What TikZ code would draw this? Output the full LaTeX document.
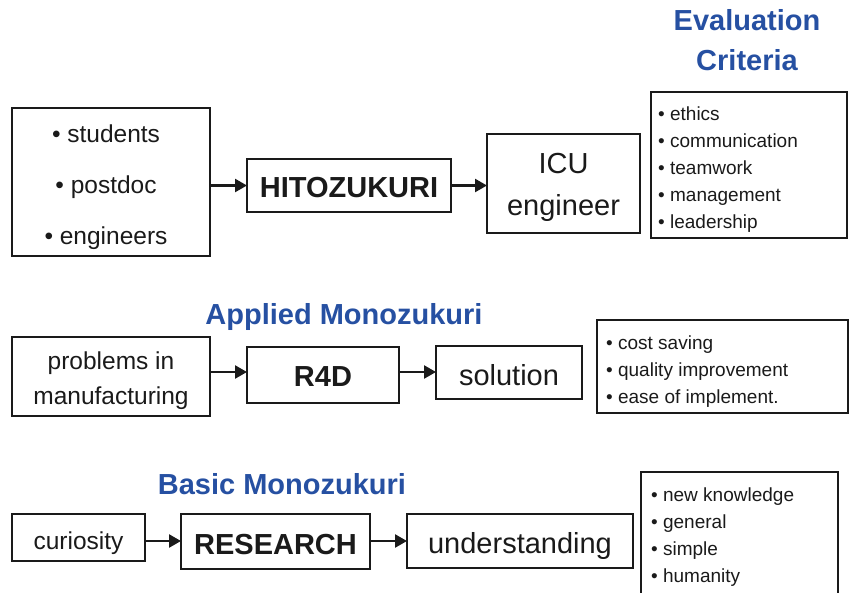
\documentclass[tikz,border=0pt]{standalone}
\usepackage{fontspec}
\setmainfont{Liberation Sans}
\usetikzlibrary{arrows.meta}
\definecolor{titleblue}{RGB}{38,80,162}
\definecolor{ink}{RGB}{26,26,26}
\tikzset{
  box/.style={draw=ink, line width=2pt, rectangle, inner sep=0pt, outer sep=0pt, anchor=north west},
  txt/.style={text=ink, inner sep=0pt, anchor=base},
  item/.style={text=ink, inner sep=0pt, anchor=base west, font=\fontsize{19}{23}\selectfont},
  flow/.style={draw=ink, line width=2.4pt, -{Triangle[length=12pt,width=13pt]}},
  heading/.style={text=titleblue, inner sep=0pt, font=\fontsize{29}{40}\selectfont\bfseries},
  small/.style={font=\fontsize{24.5}{30}\selectfont},
  large/.style={font=\fontsize{29}{35}\selectfont},
  strong/.style={font=\fontsize{29}{35}\selectfont\bfseries}
}
\newcommand{\bul}{\textbullet\ }
\begin{document}
\begin{tikzpicture}[x=1pt,y=-1pt]
\clip (0,0) rectangle (849,592);

% headings
\node[heading] (evalhead) at (747,20) {Evaluation};
\node[heading] (crithead) at (747,60) {Criteria};
\node[heading] (appliedhead) at (344,316.5) {Applied Monozukuri};
\node[heading] (basichead) at (282,484) {Basic Monozukuri};

% ---- Hitozukuri row ----
\node[box, minimum width=198pt, minimum height=148pt] (people) at (12,108) {};
\node[txt, small] (students) at (106,142) {\bul students};
\node[txt, small] (postdoc) at (106,193.5) {\bul postdoc};
\node[txt, small] (engineers) at (106,244.5) {\bul engineers};

\node[box, minimum width=204pt, minimum height=53pt] (hito) at (247,159) {};
\node[txt, strong] (hitotext) at (349,197) {HITOZUKURI};

\node[box, minimum width=153pt, minimum height=99pt] (icu) at (487,134) {};
\node[txt, large] (icutext) at (563.5,173.5) {ICU};
\node[txt, large] (engtext) at (563.5,215.5) {engineer};

\node[box, minimum width=196pt, minimum height=146pt] (criteria) at (651,92) {};
\node[item] (ethics) at (658,120) {\bul ethics};
\node[item] (comm) at (658,147) {\bul communication};
\node[item] (team) at (658,174) {\bul teamwork};
\node[item] (manage) at (658,201) {\bul management};
\node[item] (lead) at (658,228) {\bul leadership};

% ---- Applied Monozukuri row ----
\node[box, minimum width=198pt, minimum height=79pt] (problems) at (12,337) {};
\node[txt, small] (probtext) at (111,369) {problems in};
\node[txt, small] (manutext) at (111,404) {manufacturing};

\node[box, minimum width=152pt, minimum height=56pt] (rfd) at (247,347) {};
\node[txt, strong] (rfdtext) at (323,386) {R4D};

\node[box, minimum width=146pt, minimum height=53pt] (solution) at (436,346) {};
\node[txt, large] (soltext) at (509,385.5) {solution};

\node[box, minimum width=251pt, minimum height=93pt] (benefits) at (597,320) {};
\node[item] (cost) at (606,349) {\bul cost saving};
\node[item] (quality) at (606,376) {\bul quality improvement};
\node[item] (ease) at (606,403) {\bul ease of implement.};

% ---- Basic Monozukuri row ----
\node[box, minimum width=133pt, minimum height=47pt] (curiosity) at (12,514) {};
\node[txt, small] (curtext) at (78.5,549) {curiosity};

\node[box, minimum width=189pt, minimum height=55pt] (research) at (181,514) {};
\node[txt, strong] (restext) at (275.5,554) {RESEARCH};

\node[box, minimum width=226pt, minimum height=54pt] (understanding) at (407,514) {};
\node[txt, large] (undtext) at (520,553.5) {understanding};

\node[box, minimum width=197pt, minimum height=130pt] (outcomes) at (641,472) {};
\node[item] (newk) at (651,501) {\bul new knowledge};
\node[item] (general) at (651,528) {\bul general};
\node[item] (simple) at (651,555) {\bul simple};
\node[item] (humanity) at (651,582) {\bul humanity};

% connectors
\coordinate (rowA) at (0,185.5);
\coordinate (rowB) at (0,372);
\coordinate (rowC) at (0,541);
\draw[flow] (people.east |- rowA) -- (hito.west |- rowA);
\draw[flow] (hito.east |- rowA) -- (icu.west |- rowA);
\draw[flow] (problems.east |- rowB) -- (rfd.west |- rowB);
\draw[flow] (rfd.east |- rowB) -- (solution.west |- rowB);
\draw[flow] (curiosity.east |- rowC) -- (research.west |- rowC);
\draw[flow] (research.east |- rowC) -- (understanding.west |- rowC);
\end{tikzpicture}
\end{document}
